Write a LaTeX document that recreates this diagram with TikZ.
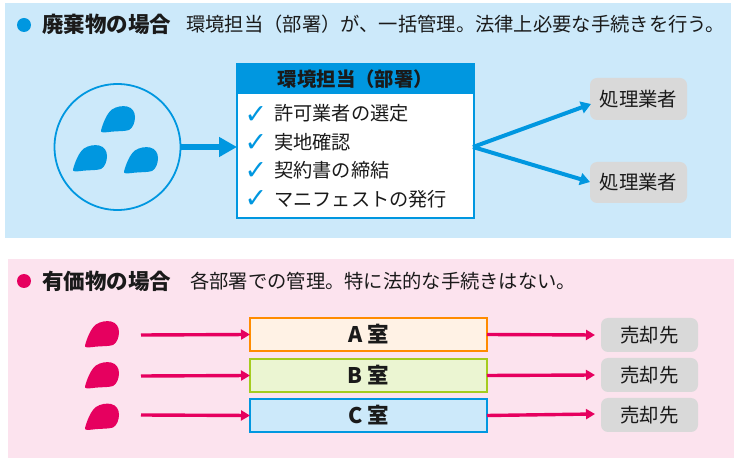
\documentclass[tikz,border=0pt]{standalone}
\usepackage{fontspec}
\setmainfont{Noto Sans CJK JP}
\newfontfamily\tickfont{DejaVu Sans}
\usetikzlibrary{arrows.meta}
\definecolor{bluebg}{HTML}{CCE9FA}
\definecolor{pinkbg}{HTML}{FCE3EE}
\definecolor{bluem}{HTML}{0097E0}
\definecolor{magm}{HTML}{E6005F}
\definecolor{grayb}{HTML}{D9D9D9}
\definecolor{ink}{HTML}{1A1A1A}
\definecolor{orangeb}{HTML}{FF8C00}
\definecolor{orangef}{HTML}{FFF2E5}
\definecolor{greenb}{HTML}{A5CC1F}
\definecolor{greenf}{HTML}{EBF5D2}
\newcommand{\blobshape}[1]{%
  \fill[#1] (0,24.5) .. controls (2,17) and (6,7) .. (11,3.5)
    .. controls (15,0.5) and (22,-0.5) .. (26,0.5)
    .. controls (31,1.5) and (34,6) .. (34,11)
    .. controls (34,16) and (32,22) .. (28,24)
    .. controls (24,25.5) and (14,25) .. (8,26)
    .. controls (3,26.5) and (-0.5,27) .. (0,24.5) -- cycle;}
\tikzset{
  panel/.style={anchor=north west,inner sep=0pt,outer sep=0pt},
  headtext/.style={anchor=west,inner sep=0pt,text=ink,font=\fontsize{19.3}{21}\selectfont},
  headbold/.style={anchor=west,inner sep=0pt,text=ink,font=\fontsize{21.5}{23}\bfseries\selectfont},
  listtext/.style={anchor=west,inner sep=0pt,text=ink,font=\fontsize{19.2}{21}\selectfont},
  tick/.style={anchor=center,inner sep=0pt,text=bluem,font=\tickfont\fontsize{27}{28}\bfseries\selectfont},
  grayrect/.style={panel,fill=grayb,rounded corners=7pt,text=ink,font=\fontsize{19.4}{21}\selectfont,minimum width=97pt},
  room/.style={panel,line width=2.3pt,minimum width=237pt,minimum height=33pt,text=ink,font=\fontsize{21.5}{23}\bfseries\selectfont},
  bluearrow/.style={draw=bluem,line width=4pt,-{Triangle[length=10pt,width=12pt]}},
  magarrow/.style={draw=magm,line width=3.4pt,-{Triangle[length=9pt,width=10pt]}},
}
\begin{document}
\begin{tikzpicture}[x=1pt,y=-1pt]
\useasboundingbox (0,0) rectangle (740,462);
\fill[bluebg] (5,3) rectangle (731,238);
\fill[pinkbg] (8,259) rectangle (734,458);
% headings
\node[circle,fill=bluem,minimum size=14pt,inner sep=0pt] (bulA) at (24,25) {};
\node[headbold] (titleA) at (42,24.5) {廃棄物の場合};
\node[headtext] (descA) at (186,24.5) {環境担当（部署）が、一括管理。法律上必要な手続きを行う。};
\node[circle,fill=magm,minimum size=14pt,inner sep=0pt] (bulB) at (24,281) {};
\node[headbold] (titleB) at (42,281) {有価物の場合};
\node[headtext] (descB) at (190,281) {各部署での管理。特に法的な手続きはない。};
% circle with blobs
\node[circle,draw=bluem,line width=1.8pt,fill=none,minimum size=126pt,inner sep=0pt] (pool) at (117.5,147) {};
\begin{scope}[shift={(101,106)}]\blobshape{bluem}\end{scope}
\begin{scope}[shift={(73,145)}]\blobshape{bluem}\end{scope}
\begin{scope}[shift={(124,147)}]\blobshape{bluem}\end{scope}
% main box
\node[panel,draw=bluem,line width=2pt,fill=white,minimum width=237pt,minimum height=154pt] (main) at (237,64) {};
\node[panel,fill=bluem,minimum width=237pt,minimum height=30pt,text=ink,font=\fontsize{19.4}{21}\bfseries\selectfont] (mainhead) at (237,64) {環境担当（部署）};
\node[tick] (t1) at (256,115) {✓};
\node[tick] (t2) at (256,142.5) {✓};
\node[tick] (t3) at (256,170.5) {✓};
\node[tick] (t4) at (256,198.5) {✓};
\node[listtext] (l1) at (274,113) {許可業者の選定};
\node[listtext] (l2) at (274,142) {実地確認};
\node[listtext] (l3) at (274,170) {契約書の締結};
\node[listtext] (l4) at (274,199) {マニフェストの発行};
\draw[bluem,line width=6pt,-{Triangle[length=18pt,width=19pt]}] (pool.east) -- (pool.east -| main.west);
% contractors
\node[grayrect,minimum height=42pt] (p1) at (590,78) {処理業者};
\node[grayrect,minimum height=41pt] (p2) at (590,162) {処理業者};
\coordinate (fork) at (473,147);
\coordinate (p1in) at (591,104);
\coordinate (p2in) at (590,182);
\draw[bluearrow] (fork) -- (p1in);
\draw[bluearrow] (fork) -- (p2in);
% rooms
\node[room,draw=orangeb,fill=orangef] (ra) at (250,318) {A 室};
\node[room,draw=greenb,fill=greenf] (rb) at (250,359) {B 室};
\node[room,draw=bluem,fill=bluebg] (rc) at (250,399) {C 室};
\begin{scope}[shift={(85,321)}]\blobshape{magm}\end{scope}
\begin{scope}[shift={(85,362)}]\blobshape{magm}\end{scope}
\begin{scope}[shift={(85,403.5)}]\blobshape{magm}\end{scope}
\node[grayrect,minimum height=34pt] (s1) at (601,318) {売却先};
\node[grayrect,minimum height=34pt] (s2) at (601,358) {売却先};
\node[grayrect,minimum height=34pt] (s3) at (601,398) {売却先};
\coordinate (a0) at (141,335);
\coordinate (b0) at (141,376);
\coordinate (c0) at (141,415);
\coordinate (a1) at (595,335);
\coordinate (b1) at (595,375);
\coordinate (c1) at (595,414);
\draw[magarrow] (a0) -- (ra.west);
\draw[magarrow] (b0) -- (rb.west);
\draw[magarrow] (c0) -- (rc.west);
\draw[magarrow] (ra.east) -- (a1);
\draw[magarrow] (rb.east) -- (b1);
\draw[magarrow] (rc.east) -- (c1);
\end{tikzpicture}
\end{document}
